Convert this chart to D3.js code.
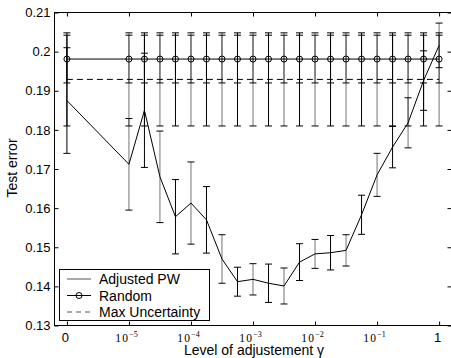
<!DOCTYPE html>
<html><head><meta charset="utf-8">
<script src="https://cdn.jsdelivr.net/npm/d3@7"></script>
<style>
html,body{margin:0;padding:0;background:#fff;}
svg{display:block;font-family:"Liberation Sans",Arial,Helvetica,sans-serif;}
</style></head>
<body>
<svg id="chart" width="451" height="358"></svg>
<script>
// gamma values (0 is shown at the 1e-6 position)
const gammas = [0, 1e-5, 1.778e-5, 3.162e-5, 5.623e-5, 1e-4, 1.778e-4, 3.162e-4, 5.623e-4,
  1e-3, 1.778e-3, 3.162e-3, 5.623e-3, 1e-2, 1.778e-2, 3.162e-2, 5.623e-2, 1e-1, 0.1778, 0.3162, 0.5623, 1];
const adjustedPW = [0.1875, 0.1712, 0.1850, 0.1680, 0.1578, 0.1613, 0.1570, 0.1470, 0.1412, 0.1418, 0.1408,
  0.1401, 0.1462, 0.1483, 0.1486, 0.1492, 0.1583, 0.1685, 0.1756, 0.1818, 0.1926, 0.2016];
const adjustedErr = [0.0135, 0.0117, 0.0146, 0.0117, 0.0095, 0.0105, 0.0085, 0.0062, 0.0037, 0.0040, 0.0049,
  0.0046, 0.0047, 0.0037, 0.0044, 0.0040, 0.0050, 0.0055, 0.0053, 0.0064, 0.0076, 0.0057];
const randomVal = [0.1981, 0.1981, 0.1981, 0.1981, 0.1981, 0.1981, 0.1981, 0.1981, 0.1981, 0.1981, 0.1981,
  0.1981, 0.1981, 0.1981, 0.1981, 0.1981, 0.1981, 0.1981, 0.1981, 0.1981, 0.1981, 0.1981];
const randomErr = [0.0061, 0.0061, 0.0061, 0.0061, 0.0061, 0.0061, 0.0061, 0.0061, 0.0061, 0.0061, 0.0061,
  0.0061, 0.0061, 0.0061, 0.0061, 0.0061, 0.0061, 0.0061, 0.0061, 0.0061, 0.0061, 0.0061];
const maxUnc = [0.1929, 0.1929, 0.1929, 0.1929, 0.1929, 0.1929, 0.1929, 0.1929, 0.1929, 0.1929, 0.1929,
  0.1929, 0.1929, 0.1929, 0.1929, 0.1929, 0.1929, 0.1929, 0.1929, 0.1929, 0.1929, 0.1929];
const maxUncErr = [0.0119, 0.0119, 0.0119, 0.0119, 0.0119, 0.0119, 0.0119, 0.0119, 0.0119, 0.0119, 0.0119,
  0.0119, 0.0119, 0.0119, 0.0119, 0.0119, 0.0119, 0.0119, 0.0119, 0.0119, 0.0119, 0.0119];
const xTicks = [1e-6, 1e-5, 1e-4, 1e-3, 1e-2, 1e-1, 1];
const xTickLabels = ["0", "10|−5", "10|−4", "10|−3", "10|−2", "10|−1", "1"];
const yTicks = [0.13, 0.14, 0.15, 0.16, 0.17, 0.18, 0.19, 0.2, 0.21];
const legendLabels = ["Adjusted PW", "Random", "Max Uncertainty"];

const L = 54.5, R = 451.5, T = 12.5, B = 325.5;
const svg = d3.select("#chart");
const xs = d3.scaleLog().domain([Math.pow(10, -6.2), Math.pow(10, 0.2)]).range([L, R]);
const X = g => xs(g === 0 ? 1e-6 : g);
const y = d3.scaleLinear().domain([0.13, 0.21]).range([B, T]);

// axes box
svg.append("rect").attr("x", L).attr("y", T).attr("width", R - L).attr("height", B - T)
  .attr("fill", "none").attr("stroke", "#000").attr("stroke-width", 1);

const gL = svg.append("g").attr("transform", `translate(${L},0)`)
  .call(d3.axisLeft(y).tickValues(yTicks).tickSize(-4).tickPadding(4).tickFormat(d3.format("")));
const gR = svg.append("g").attr("transform", `translate(${R},0)`)
  .call(d3.axisRight(y).tickValues(yTicks).tickSize(-4).tickFormat(""));
const gB = svg.append("g").attr("transform", `translate(0,${B})`)
  .call(d3.axisBottom(xs).tickValues(xTicks).tickSize(-4).tickPadding(6).tickFormat(""));
const gT = svg.append("g").attr("transform", `translate(0,${T})`)
  .call(d3.axisTop(xs).tickValues(xTicks).tickSize(-4).tickFormat(""));
[gL, gR, gB, gT].forEach(g => { g.select(".domain").remove(); g.selectAll("line").attr("stroke", "#000"); });
gL.selectAll("text").attr("font-size", 13).attr("font-family", "Liberation Sans, Arial, sans-serif").attr("fill", "#000");

// custom x tick labels
gB.selectAll(".tick").each(function(d, i) {
  const lab = xTickLabels[i];
  const t = d3.select(this).append("text").attr("fill", "#000").attr("x", -2).attr("y", 16)
    .attr("text-anchor", "middle");
  if (lab.indexOf("|") < 0) {
    t.attr("font-size", 13).attr("font-family", "Liberation Sans, Arial, sans-serif").text(lab);
  } else {
    const [base, exp] = lab.split("|");
    t.attr("font-family", "Liberation Serif, Times New Roman, serif").attr("font-size", 11.5).attr("x", -3);
    t.append("tspan").attr("letter-spacing", 1.2).text(base);
    t.append("tspan").attr("font-size", 8).attr("dy", -5).text(exp);
  }
});

// axis titles
svg.append("text").attr("x", 254).attr("y", 355).attr("text-anchor", "middle")
  .attr("font-size", 14).attr("fill", "#000").text("Level of adjustement γ");
svg.append("text").attr("transform", `translate(17,168) rotate(-90)`).attr("text-anchor", "middle")
  .attr("font-size", 14).attr("fill", "#000").text("Test error");

const plot = svg.append("g");
const capW = 3.5;
function errorBars(vals, errs) {
  const g = plot.append("g");
  gammas.forEach((gm, i) => {
    const cx = X(gm), lo = y(vals[i] - errs[i]), hi = y(vals[i] + errs[i]);
    g.append("line").attr("x1", cx).attr("x2", cx).attr("y1", lo).attr("y2", hi)
      .attr("stroke", "#000").attr("stroke-opacity", i % 2 ? 0.55 : 1).attr("stroke-width", 1);
    [lo, hi].forEach(yy => g.append("line").attr("x1", cx - capW).attr("x2", cx + capW)
      .attr("y1", yy).attr("y2", yy).attr("stroke", "#000").attr("stroke-width", 1));
  });
}
const line = vals => d3.line().x((d, i) => X(gammas[i])).y(d => y(d))(vals);

// Max Uncertainty
errorBars(maxUnc, maxUncErr);
plot.append("path").attr("d", line(maxUnc)).attr("fill", "none").attr("stroke", "#000")
  .attr("stroke-width", 1).attr("stroke-dasharray", "6,4");
// Random
errorBars(randomVal, randomErr);
plot.append("path").attr("d", line(randomVal)).attr("fill", "none").attr("stroke", "#000").attr("stroke-width", 1);
plot.append("g").selectAll("circle").data(randomVal).join("circle")
  .attr("cx", (d, i) => X(gammas[i])).attr("cy", d => y(d)).attr("r", 3)
  .attr("fill", "none").attr("stroke", "#000").attr("stroke-width", 1);
// Adjusted PW
errorBars(adjustedPW, adjustedErr);
plot.append("path").attr("d", line(adjustedPW)).attr("fill", "none").attr("stroke", "#000").attr("stroke-width", 1);

// legend
const lg = svg.append("g");
lg.append("rect").attr("x", 59.5).attr("y", 269.5).attr("width", 150).attr("height", 51)
  .attr("fill", "#fff").attr("stroke", "#000").attr("stroke-width", 1);
const rowsY = [279, 295.5, 312];
legendLabels.forEach((lab, i) => {
  const yy = rowsY[i];
  const ln = lg.append("line").attr("x1", 67).attr("x2", 91).attr("y1", yy).attr("y2", yy)
    .attr("stroke", i === 1 ? "#000" : "#555").attr("stroke-width", 1);
  if (i === 2) ln.attr("stroke-dasharray", "5,4");
  if (i === 1) lg.append("circle").attr("cx", 79).attr("cy", yy).attr("r", 3)
    .attr("fill", "none").attr("stroke", "#000");
  lg.append("text").attr("x", 99).attr("y", yy + 5).attr("font-size", 14).attr("fill", "#000").text(lab);
});
</script>
</body></html>
